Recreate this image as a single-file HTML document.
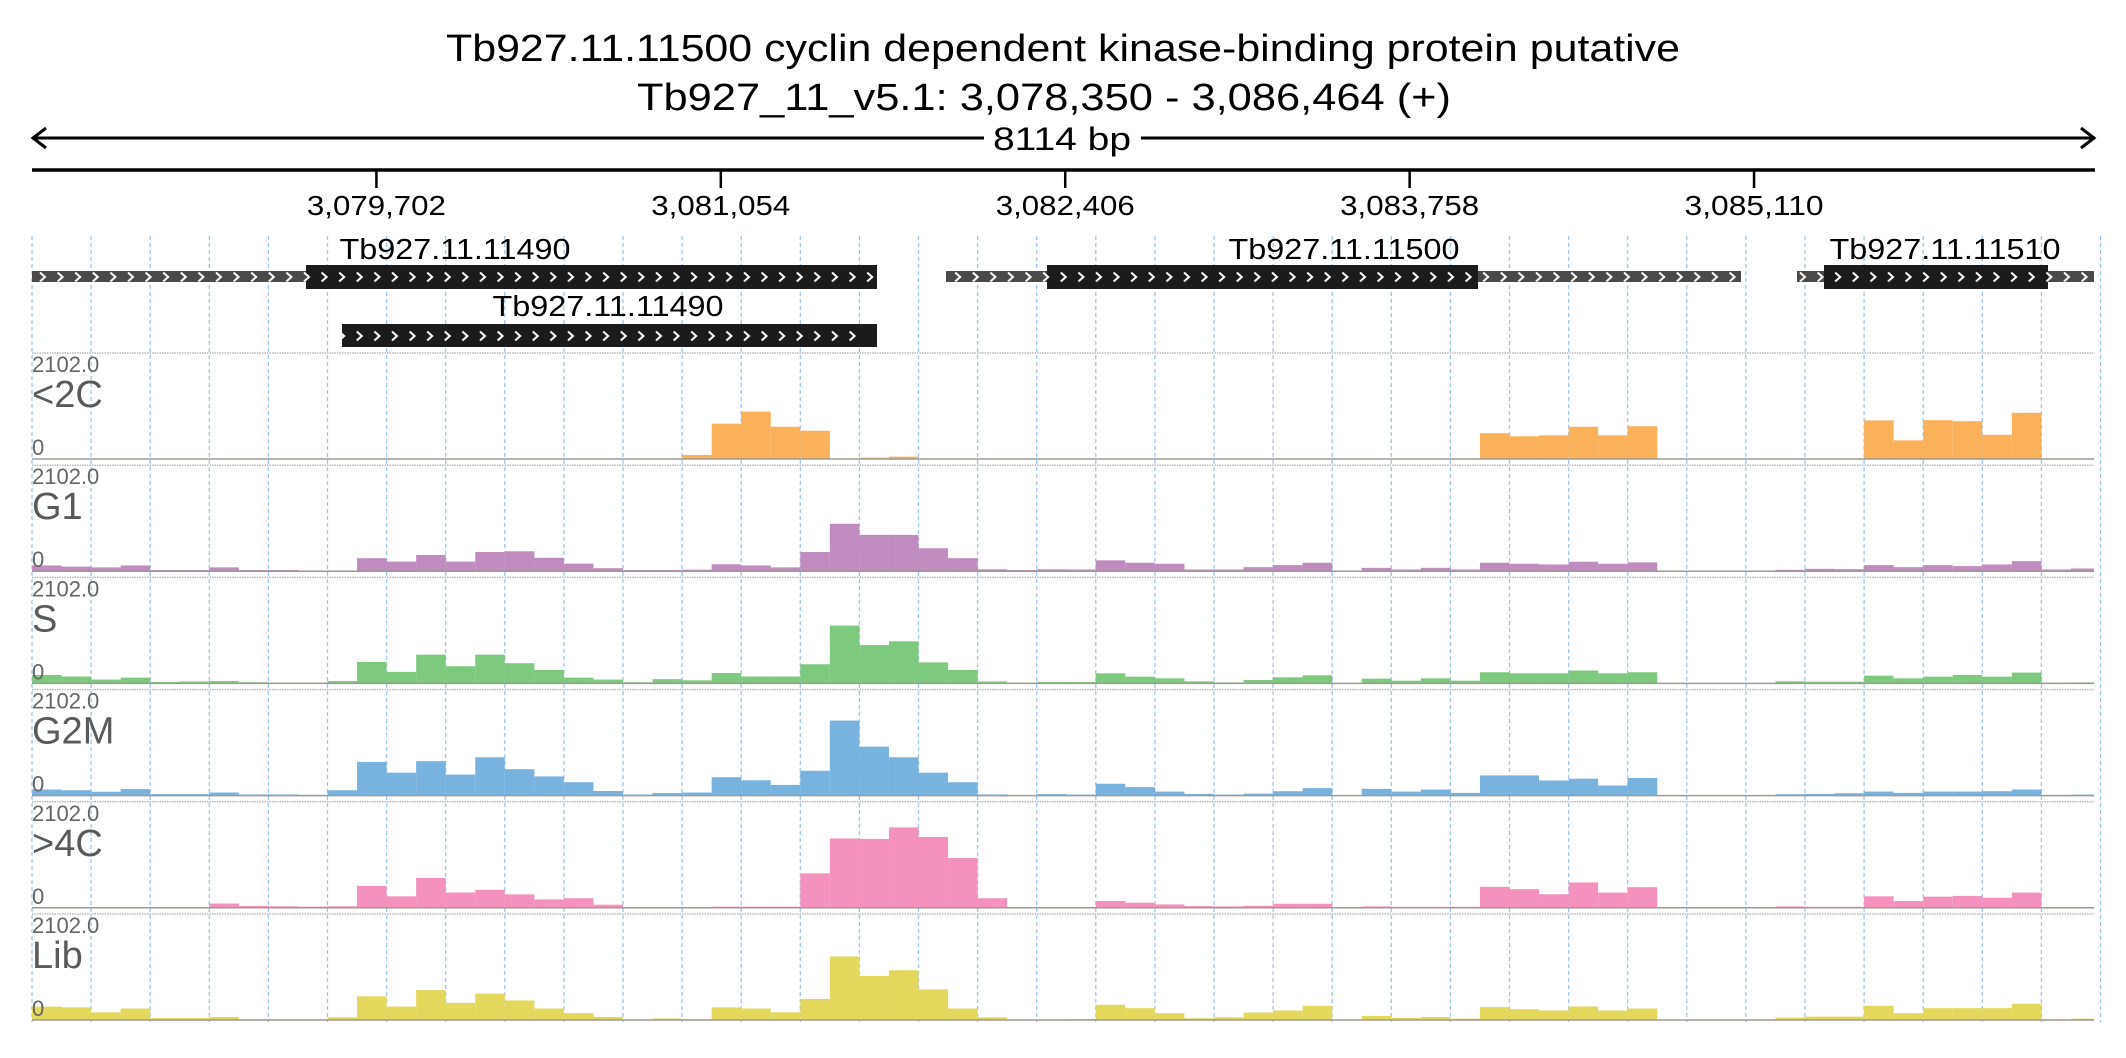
<!DOCTYPE html>
<html><head><meta charset="utf-8">
<style>
html,body{margin:0;padding:0;background:#fff;}
svg{display:block;font-family:"Liberation Sans",sans-serif;}
</style></head>
<body>
<svg id="chart" width="2126" height="1058" viewBox="0 0 2126 1058" xmlns="http://www.w3.org/2000/svg">
<defs>
<pattern id="chevW" width="17.6" height="24" patternUnits="userSpaceOnUse" x="36" y="265">
<polyline points="4,7.5 9,12 4,16.5" fill="none" stroke="#fff" stroke-width="2"/>
</pattern>
<pattern id="chevW2" width="17.6" height="24" patternUnits="userSpaceOnUse" x="36" y="324">
<polyline points="4,7.5 9,12 4,16.5" fill="none" stroke="#fff" stroke-width="2"/>
</pattern>
</defs>
<g>
<text x="1063" y="61" font-size="38" text-anchor="middle" textLength="1234" lengthAdjust="spacingAndGlyphs">Tb927.11.11500  cyclin dependent kinase-binding protein  putative</text>
<text x="1044" y="110" font-size="38" text-anchor="middle" textLength="814" lengthAdjust="spacingAndGlyphs">Tb927_11_v5.1: 3,078,350 - 3,086,464 (+)</text>
</g>
<g stroke="#000" stroke-width="3" fill="none">
<line x1="32" y1="138" x2="984" y2="138"/>
<line x1="1141" y1="138" x2="2095" y2="138"/>
<polyline points="46,128 33,138 46,148"/>
<polyline points="2081,128 2094,138 2081,148"/>
</g>
<text x="1062" y="150" font-size="32" text-anchor="middle" textLength="138" lengthAdjust="spacingAndGlyphs">8114 bp</text>
<line x1="32" y1="170" x2="2095" y2="170" stroke="#000" stroke-width="3.5"/>
<g id="ticks"></g>
<g id="grid"></g>
<g>
<rect x="32" y="271" width="274" height="11" fill="#4a4a4a"/>
<rect x="306" y="265" width="571" height="24" fill="#1b1b1b"/>
<rect x="946" y="271" width="101" height="11" fill="#4a4a4a"/>
<rect x="1047" y="265" width="431" height="24" fill="#1b1b1b"/>
<rect x="1478" y="271" width="263" height="11" fill="#4a4a4a"/>
<rect x="1797" y="271" width="27" height="11" fill="#4a4a4a"/>
<rect x="1824" y="265" width="224" height="24" fill="#1b1b1b"/>
<rect x="2048" y="271" width="46" height="11" fill="#4a4a4a"/>
<rect x="32" y="265" width="2062" height="24" fill="url(#chevW)" clip-path="url(#c1)"/>
<clipPath id="c1"><rect x="32" y="265" width="845" height="24"/><rect x="946" y="265" width="795" height="24"/><rect x="1797" y="265" width="297" height="24"/></clipPath>
<rect x="342" y="324" width="535" height="23" fill="#1b1b1b"/>
<rect x="342" y="324" width="520" height="23" fill="url(#chevW2)"/>
<text x="455" y="259" font-size="29" text-anchor="middle" textLength="231" lengthAdjust="spacingAndGlyphs">Tb927.11.11490</text>
<text x="1344" y="259" font-size="29" text-anchor="middle" textLength="231" lengthAdjust="spacingAndGlyphs">Tb927.11.11500</text>
<text x="1945" y="259" font-size="29" text-anchor="middle" textLength="231" lengthAdjust="spacingAndGlyphs">Tb927.11.11510</text>
<text x="608" y="316" font-size="29" text-anchor="middle" textLength="231" lengthAdjust="spacingAndGlyphs">Tb927.11.11490</text>
</g>
<g id="tracks"></g>
</svg>
<script>
const startBp = 3078350;
const binSize = 116;
const maxVal = 2102;
const tickValues = [3079702, 3081054, 3082406, 3083758, 3085110];
const tickLabels = ["3,079,702", "3,081,054", "3,082,406", "3,083,758", "3,085,110"];
const trackNames = ["<2C", "G1", "S", "G2M", ">4C", "Lib"];
const c2Values = [0,0,0,0,0,0,0,0,0,0, 0,0,0,0,0,0,0,0,0,0, 0,0,80,700,940,640,560,0,25,47, 0,0,0,0,0,0,0,0,0,0, 0,0,0,0,0,0,0,0,0,512, 450,470,640,470,650,0,0,0,0,0, 0,0,765,370,770,750,480,915,0,0];
const g1Values = [114,91,76,114,23,23,76,23,23,15, 15,258,190,320,190,380,395,265,150,60, 23,23,30,137,114,76,380,940,720,720, 455,258,38,23,38,34,215,168,148,34, 34,80,120,168,0,67,34,67,34,168, 148,134,188,148,175,0,0,0,0,27, 47,40,121,80,120,100,134,200,34,54];
const sValues = [167,137,76,114,30,38,46,23,15,15, 46,425,228,570,340,570,400,265,114,76, 23,84,61,205,137,137,380,1146,760,835, 417,265,38,15,30,27,200,134,100,40, 20,67,120,160,0,94,54,100,54,221, 200,200,255,200,221,0,0,0,0,40, 34,34,154,100,134,168,134,215,13,20];
const g2mValues = [121,106,76,129,30,30,61,23,23,15, 106,668,455,683,417,760,524,380,265,91, 23,53,61,364,304,212,493,1488,970,760, 455,265,23,8,30,20,235,168,80,34, 20,40,87,148,0,134,80,120,54,400, 400,300,335,200,350,0,0,0,0,27, 34,47,80,54,80,80,87,121,13,20];
const c4Values = [0,0,0,0,0,0,84,38,30,23, 30,433,228,592,304,357,266,167,190,61, 0,0,0,23,23,23,683,1374,1366,1594, 1404,987,190,0,15,15,134,100,67,34, 27,40,80,80,0,27,20,20,20,416, 370,268,503,302,409,0,0,0,0,27, 20,20,228,134,221,235,200,302,0,0];
const libValues = [266,250,152,228,38,38,61,15,15,15, 53,470,266,592,340,524,387,228,137,61, 8,30,15,250,228,152,417,1260,873,987, 607,228,53,8,0,20,302,235,134,34, 54,148,188,282,0,80,40,60,27,255, 215,188,268,188,228,0,0,0,0,47, 67,67,282,134,235,235,235,322,13,27];
const trackSeries = [c2Values, g1Values, sValues, g2mValues, c4Values, libValues];
const trackColors = ["#fbb05a", "#c08bbf", "#7dc97d", "#78b3e0", "#f491bd", "#e3d75c"];
const trackKeys = ["lt2c", "g1", "s", "g2m", "gt4c", "lib"];

const NS = "http://www.w3.org/2000/svg";
const pxPerBp = 29.55 / 116;
function xScale(bp) { return 32 + (bp - startBp) * pxPerBp; }
const panelH = 106;
function baseOf(t) { return 459 + t * 112.2; }
function yScale(v, t) { return baseOf(t) - (v / maxVal) * panelH; }
function mk(tag, attrs, parent) {
  const e = document.createElementNS(NS, tag);
  for (const k in attrs) e.setAttribute(k, attrs[k]);
  parent.appendChild(e);
  return e;
}

const ticksG = document.getElementById("ticks");
tickValues.forEach((v, i) => {
  const x = xScale(v);
  const l = mk("line", {x1: x, x2: x, y1: 170, y2: 188, stroke: "#000", "stroke-width": 2.5}, ticksG);
  
  
  const t = mk("text", {x: x, y: 215, "font-size": 28, "text-anchor": "middle", textLength: 139, lengthAdjust: "spacingAndGlyphs"}, ticksG);
  t.textContent = tickLabels[i];
  
  
});

const gridG = document.getElementById("grid");
for (let k = 0; k <= 35; k++) {
  const x = 32 + k * 59.1;
  const g = mk("line", {x1: x, x2: x, y1: 236, y2: 1022, stroke: "#9cc8ee", "stroke-width": 1.3, "stroke-dasharray": "4 3"}, gridG);
  
  
}

const tracksG = document.getElementById("tracks");
trackSeries.forEach((vals, t) => {
  const base = baseOf(t);
  const g = mk("g", {}, tracksG);
  
  
  const top = mk("line", {x1: 32, x2: 2094, y1: base - panelH, y2: base - panelH, stroke: "#b8b8b8", "stroke-width": 1.5, "stroke-dasharray": "1.5 1"}, g);
  
  
  vals.forEach((v, i) => {
    if (v <= 0) return;
    const x0 = xScale(startBp + i * binSize);
    const x1 = Math.min(xScale(startBp + (i + 1) * binSize), 2094);
    const y = yScale(Math.min(v, maxVal), t);
    const r = mk("rect", {x: x0, y: y, width: Math.max(0, x1 - x0), height: base - y, fill: trackColors[t]}, g);
    
    
  });
  const bl = mk("line", {x1: 32, x2: 2094, y1: base, y2: base, stroke: "#a09a90", "stroke-width": 1.5}, g);
  
  
  const mx = mk("text", {x: 32, y: base - panelH + 19, "font-size": 22, fill: "#666"}, g);
  mx.textContent = "2102.0";
  
  
  const nm = mk("text", {x: 32, y: base - panelH + 54, "font-size": 38, fill: "#5a5a5a"}, g);
  nm.textContent = trackNames[t];
  
  
  const zr = mk("text", {x: 32, y: base - 4, "font-size": 22, fill: "#666"}, g);
  zr.textContent = "0";
  
  
});
</script>
</body></html>
